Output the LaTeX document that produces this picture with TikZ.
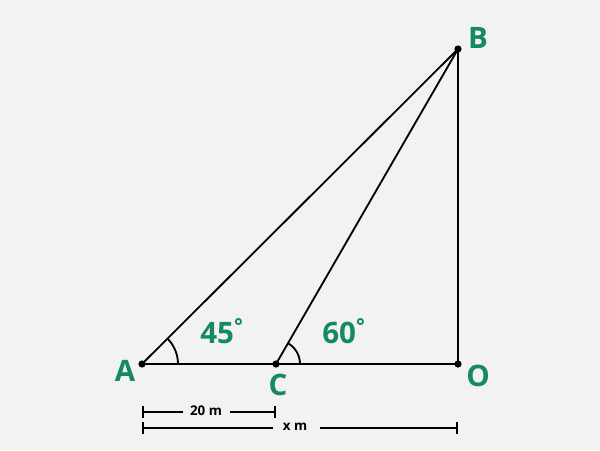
\documentclass[tikz,border=0pt]{standalone}
\usepackage{fontspec}
\setmainfont{Open Sans}
\definecolor{bggray}{HTML}{F2F2F2}
\definecolor{ptgreen}{HTML}{158A5E}
\begin{document}
\begin{tikzpicture}[x=0.025cm, y=-0.025cm,
    point/.style ={circle, fill, inner sep = 0pt, minimum size=1.8mm},
    ptlabel/.style ={text=ptgreen, font=\fontsize{21}{21}\selectfont\bfseries, inner sep=0pt},
    dimlabel/.style ={font=\fontsize{9.5}{10}\selectfont\bfseries, inner sep=0pt},
    side/.style ={line width=1.3pt},
    dimtick/.style ={line width=1.3pt, |-|}]
   \fill[bggray] (0,0) rectangle (600,450);
   \useasboundingbox (0,0) rectangle (600,450);

   \node[point] (A) at (142,364) {};
   \node[point] (C) at (276,364) {};
   \node[point] (O) at (458,364) {};
   \node[point] (B) at (458,49)  {};

   \node[ptlabel] (LA) at (125,371) {A};
   \node[ptlabel] (LB) at (478,38)  {B};
   \node[ptlabel] (LC) at (278,385) {C};
   \node[ptlabel] (LO) at (478,376) {O};
   \node[ptlabel] (a45) at (222,331) {45\textsuperscript{\textdegree}};
   \node[ptlabel] (a60) at (344,331) {60\textsuperscript{\textdegree}};

   \draw[side] (A.center) to (O.center);
   \draw[side] (O.center) to (B.center);
   \draw[side] (B.center) to (A.center);
   \draw[side] (B.center) to (C.center);

   \draw[side] ([shift={(36,0)}]A.center) arc (0:-45:36);
   \draw[side] ([shift={(24,0)}]C.center) arc (0:-60:24);

   \coordinate (d1l) at (142,412);
   \coordinate (d1r) at (276,412);
   \coordinate (d2l) at (142,428);
   \coordinate (d2r) at (458,428);
   \draw[dimtick] (d1l) -- (d1r);
   \draw[dimtick] (d2l) -- (d2r);
   \fill[bggray] (183,405) rectangle (230,419);
   \fill[bggray] (273,421) rectangle (320,435);
   \node[dimlabel] (d20) at (206,411) {20 m};
   \node[dimlabel] (dx)  at (295,427) {x m};
\end{tikzpicture}
\end{document}
